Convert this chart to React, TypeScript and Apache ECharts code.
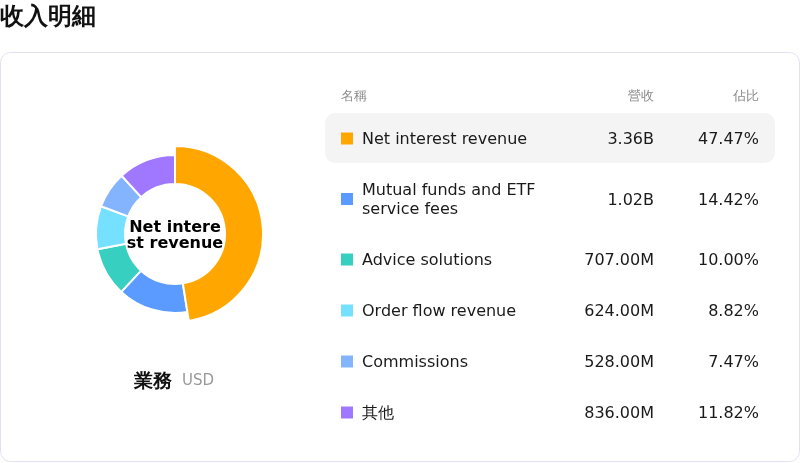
import React, { useEffect, useRef } from 'react'
import * as echarts from 'echarts'

const FONT = 'DejaVu Sans'

// segment data (millions USD)
const names = [
  'Net interest revenue',
  'Mutual funds and ETF service fees',
  'Advice solutions',
  'Order flow revenue',
  'Commissions',
  '其他',
]
const revenues = [3360, 1020, 707, 624, 528, 836]
const revenueLabels = ['3.36B', '1.02B', '707.00M', '624.00M', '528.00M', '836.00M']
const shareLabels = ['47.47%', '14.42%', '10.00%', '8.82%', '7.47%', '11.82%']
const colors = ['#ffa600', '#5b9bff', '#36cfc0', '#75e0ff', '#85b4ff', '#a078ff']
const nameLines = [1, 2, 1, 1, 1, 1]
const headers = ['名稱', '營收', '佔比']
const activeIndex = 0

const App: React.FC = () => {
  const chartRef = useRef<HTMLDivElement>(null)

  useEffect(() => {
    if (!chartRef.current) return
    const chart = echarts.init(chartRef.current, undefined, { renderer: 'svg' })

    // table rows, one per segment
    const rows: any[] = []
    let top = 113
    names.forEach((name, i) => {
      const h = 51 + 19 * (nameLines[i] - 1)
      const cy = top + h / 2
      if (i === activeIndex) {
        rows.push({
          type: 'rect',
          z: 1,
          shape: { x: 325, y: top, width: 450, height: 50, r: 10 },
          style: { fill: '#f4f4f4' },
        })
      }
      const cell = { fontSize: 16, fontFamily: FONT, fill: '#1a1a1a', textVerticalAlign: 'middle' }
      rows.push(
        {
          type: 'rect',
          z: 2,
          shape: { x: 341, y: cy - 6, width: 12, height: 12 },
          style: { fill: colors[i] },
        },
        {
          type: 'text',
          z: 2,
          x: 362,
          y: cy,
          style: { ...cell, text: name, width: 205, overflow: 'break', lineHeight: 19 },
        },
        {
          type: 'text',
          z: 2,
          x: 654,
          y: cy,
          style: { ...cell, text: revenueLabels[i], textAlign: 'right' },
        },
        {
          type: 'text',
          z: 2,
          x: 759,
          y: cy,
          style: { ...cell, text: shareLabels[i], textAlign: 'right' },
        },
      )
      top += h
    })

    const headerStyle = { fontSize: 13, fontFamily: FONT, fill: '#8a8a8a', textVerticalAlign: 'middle' }

    const option: echarts.EChartsOption = {
      animation: false,
      textStyle: { fontFamily: FONT },
      graphic: [
        {
          type: 'text',
          x: 0,
          y: 16,
          style: {
            text: '收入明細',
            fontSize: 24,
            fontWeight: 'bold',
            fontFamily: FONT,
            fill: '#111',
            textVerticalAlign: 'middle',
          },
        },
        {
          type: 'rect',
          z: 0,
          shape: { x: 0.5, y: 52.5, width: 799, height: 409, r: 10 },
          style: { fill: '#fff', stroke: '#e3e1ee', lineWidth: 1 },
        },
        { type: 'text', z: 2, x: 341, y: 95, style: { ...headerStyle, text: headers[0] } },
        { type: 'text', z: 2, x: 654, y: 95, style: { ...headerStyle, text: headers[1], textAlign: 'right' } },
        { type: 'text', z: 2, x: 759, y: 95, style: { ...headerStyle, text: headers[2], textAlign: 'right' } },
        ...rows,
        {
          type: 'text',
          z: 2,
          x: 134,
          y: 380,
          style: {
            text: '業務',
            fontSize: 19,
            fontWeight: 'bold',
            fontFamily: FONT,
            fill: '#111',
            textVerticalAlign: 'middle',
          },
        },
        {
          type: 'text',
          z: 2,
          x: 182,
          y: 380,
          style: {
            text: 'USD',
            fontSize: 15,
            fontFamily: FONT,
            fill: '#999',
            textVerticalAlign: 'middle',
          },
        },
      ],
      series: [
        {
          type: 'pie',
          z: 3,
          center: [175, 234],
          radius: [50, 79],
          startAngle: 90,
          clockwise: true,
          avoidLabelOverlap: false,
          itemStyle: { borderColor: '#fff', borderWidth: 2 },
          label: { show: false },
          labelLine: { show: false },
          emphasis: { scale: true, scaleSize: 9 },
          data: names.map((name, i) => ({
            name,
            value: revenues[i],
            itemStyle: { color: colors[i] },
            emphasis: { itemStyle: { color: colors[i] } },
            label:
              i === activeIndex
                ? {
                    show: true,
                    position: 'center',
                    fontSize: 16,
                    fontWeight: 'bold',
                    fontFamily: FONT,
                    color: '#000',
                    lineHeight: 16,
                    // the card wraps the name at a fixed width, mid-word
                    formatter: (p: any) => p.name.slice(0, 10) + '\n' + p.name.slice(10),
                  }
                : { show: false },
          })),
        },
      ],
    }

    chart.setOption(option)
    chart.dispatchAction({ type: 'highlight', seriesIndex: 0, dataIndex: activeIndex })

    return () => {
      chart.dispose()
    }
  }, [])

  return (
    <div
      ref={chartRef}
      style={{ position: 'fixed', left: 0, top: 0, width: '800px', height: '463px' }}
    />
  )
}

export default App
